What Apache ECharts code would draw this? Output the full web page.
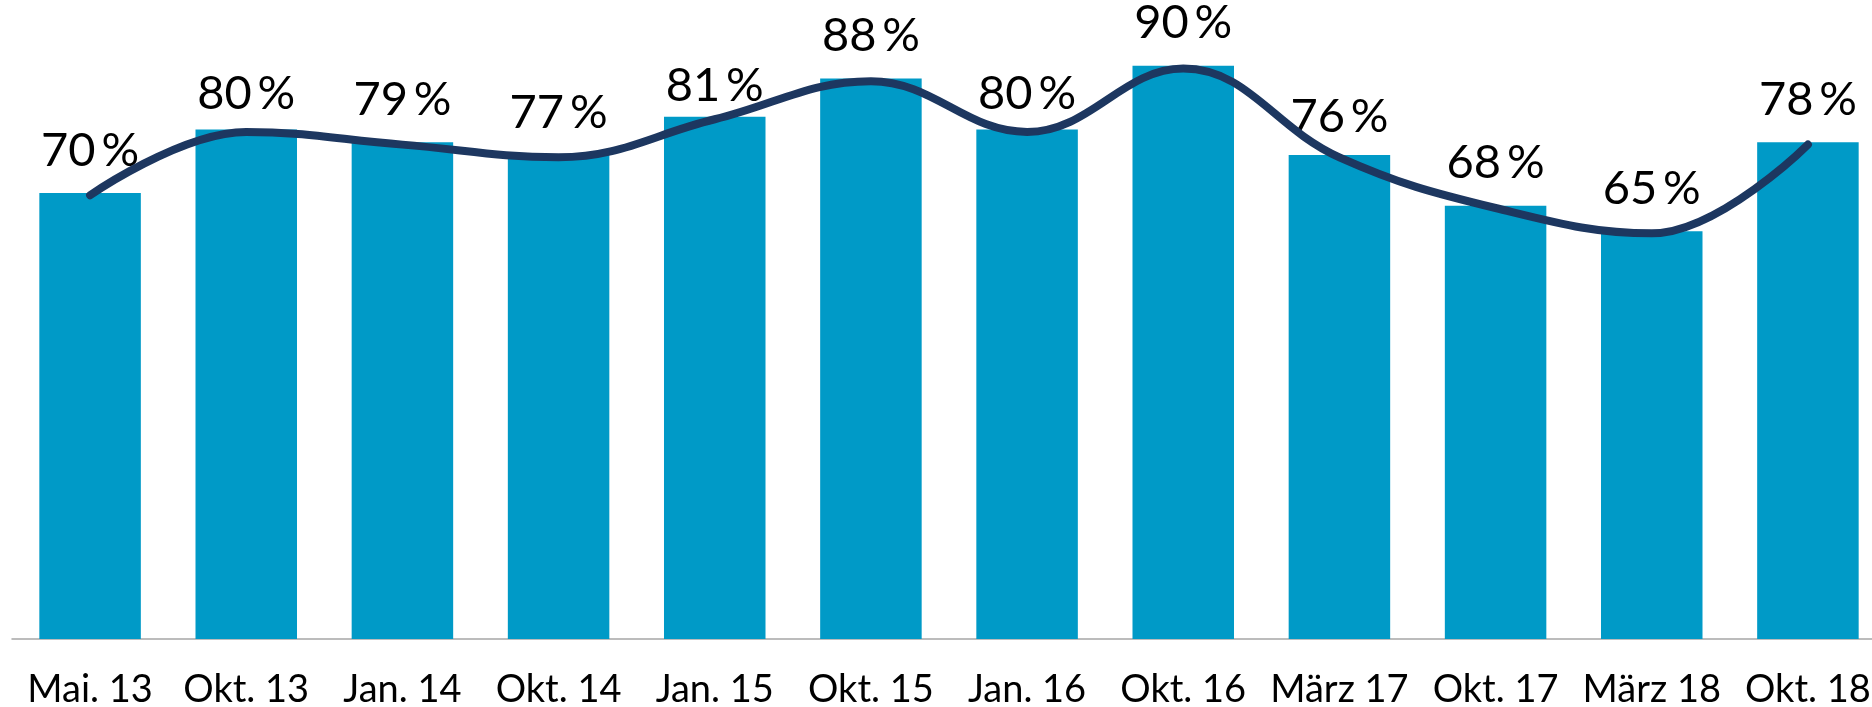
<!DOCTYPE html>
<html>
<head>
<meta charset="utf-8">
<script src="https://cdn.jsdelivr.net/npm/echarts@6/dist/echarts.min.js"></script>
<style>
html,body{margin:0;padding:0;background:#fff;}
#chart{width:1872px;height:707px;}
</style>
</head>
<body>
<div id="chart"></div>
<script>
const categories = ['Mai. 13','Okt. 13','Jan. 14','Okt. 14','Jan. 15','Okt. 15','Jan. 16','Okt. 16','März 17','Okt. 17','März 18','Okt. 18'];
// bar heights
const barValues = [70, 80, 78, 76, 82, 88, 80, 90, 76, 68, 64, 78];
// printed percentage labels
const labelValues = [70, 80, 79, 77, 81, 88, 80, 90, 76, 68, 65, 78];
const yMin = 0;
const yMax = 100;
const lineAxisMax = 100.5;
// small manual vertical nudges of the printed labels (styling, px)
const labelNudge = [0, 7, 0, 0, 12, 0, 7, 0, 4, 0, 0, 0];

const chart = echarts.init(document.getElementById('chart'), null, {renderer: 'canvas'});
chart.setOption({
  animation: false,
  backgroundColor: '#ffffff',
  grid: {left: 12, width: 1874, top: 2, bottom: 68, containLabel: false, outerBoundsMode: 'none'},
  xAxis: {
    type: 'category',
    data: categories,
    axisLine: {show: true, lineStyle: {color: '#a6a6a6', width: 1.5}},
    axisTick: {show: false},
    axisLabel: {
      interval: 0,
      margin: 32,
      fontFamily: 'Lato',
      fontSize: 38,
      color: '#000000'
    }
  },
  yAxis: [
    {type: 'value', min: yMin, max: yMax, show: false, splitLine: {show: false}},
    {type: 'value', min: yMin, max: lineAxisMax, show: false, splitLine: {show: false}}
  ],
  series: [
    {
      type: 'bar',
      data: barValues.map((v, i) => ({
        value: v,
        label: {offset: [0, labelNudge[i]]}
      })),
      z: 2,
      barCategoryGap: '35%',
      itemStyle: {color: '#009ac7'},
      label: {
        show: true,
        position: 'top',
        distance: 19,
        fontFamily: 'Lato',
        fontSize: 47,
        color: '#000000',
        formatter: p => labelValues[p.dataIndex] + '\u2009%'
      }
    },
    {
      type: 'line',
      data: barValues,
      yAxisIndex: 1,
      z: 5,
      smooth: 0.4,
      symbol: 'none',
      lineStyle: {color: '#1d3760', width: 8, cap: 'round', join: 'round'}
    }
  ]
});
</script>
</body>
</html>
